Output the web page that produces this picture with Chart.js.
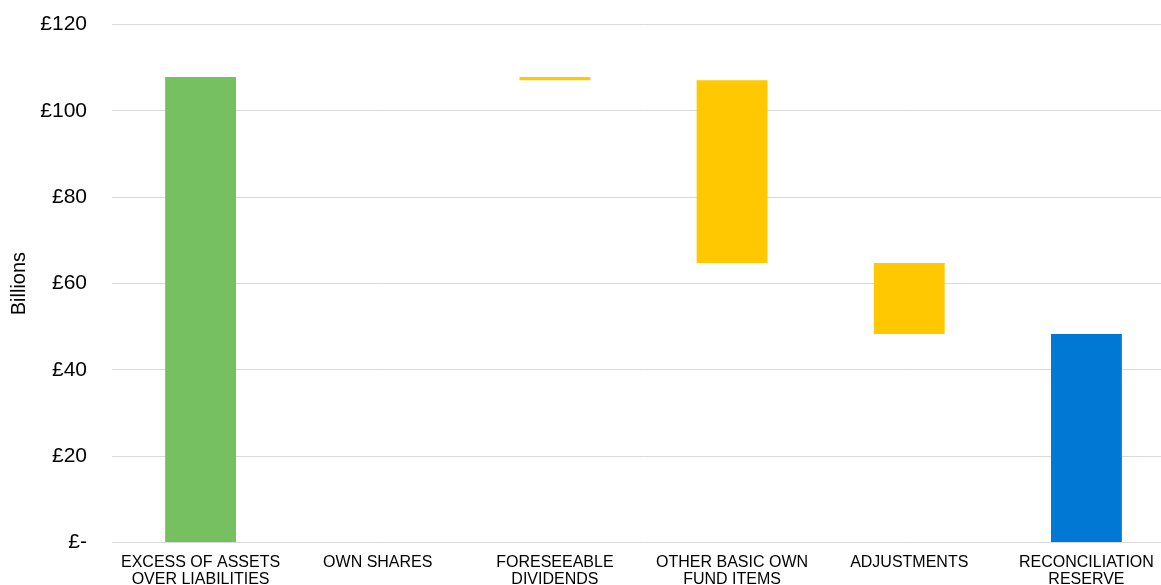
<!DOCTYPE html>
<html>
<head>
<meta charset="utf-8">
<script src="https://cdn.jsdelivr.net/npm/chart.js@4"></script>
<style>
  html, body { margin: 0; padding: 0; background: #ffffff; overflow: hidden; width: 1161px; height: 585px; }
  #wrap { position: absolute; left: 0; top: 0; width: 1175px; height: 600px; }
</style>
</head>
<body>
<div id="wrap"><canvas id="c"></canvas></div>
<script>
const categories = [
  ["EXCESS OF ASSETS", "OVER LIABILITIES"],
  ["OWN SHARES"],
  ["FORESEEABLE", "DIVIDENDS"],
  ["OTHER BASIC OWN", "FUND ITEMS"],
  ["ADJUSTMENTS"],
  ["RECONCILIATION", "RESERVE"]
];
const barStart = [0, 107.9, 107.9, 107.1, 64.8, 0];
const barEnd   = [107.9, 107.9, 107.1, 64.8, 48.3, 48.3];
const barColors = ["#76C062", "#FFC800", "#FFC800", "#FFC800", "#FFC800", "#0078D4"];
const yTicks = [0, 20, 40, 60, 80, 100, 120];

const ranges = barStart.map((s, i) => [s, barEnd[i]]);

new Chart(document.getElementById('c'), {
  type: 'bar',
  data: {
    labels: categories,
    datasets: [{
      data: ranges,
      backgroundColor: barColors,
      borderWidth: 0,
      barPercentage: 0.4,
      categoryPercentage: 1.0
    }]
  },
  options: {
    responsive: true,
    maintainAspectRatio: false,
    animation: false,
    layout: { padding: { top: 24.7, left: 0, right: 0, bottom: 0 } },
    plugins: { legend: { display: false }, tooltip: { enabled: false } },
    scales: {
      x: {
        grid: { display: false, drawTicks: false },
        border: { display: false },
        ticks: {
          color: '#000000',
          padding: 11,
          maxRotation: 0,
          autoSkip: false,
          font: { family: 'Liberation Sans, Arial, sans-serif', size: 16, lineHeight: 1.08 }
        },
        afterFit: (s) => { s.height = 600 - 542.5; }
      },
      y: {
        min: 0,
        max: 120,
        afterBuildTicks: (s) => { s.ticks = yTicks.map(v => ({ value: v })); },
        grid: { color: '#D9D9D9', lineWidth: 1, drawTicks: false },
        border: { display: false },
        ticks: {
          color: '#000000',
          padding: 25,
          font: { family: 'Liberation Sans, Arial, sans-serif', size: 21 },
          callback: (v) => v === 0 ? '£-' : '£' + v
        },
        title: {
          display: true,
          text: 'Billions',
          color: '#000000',
          padding: { top: 7.5, bottom: 0 },
          font: { family: 'Liberation Sans, Arial, sans-serif', size: 20 }
        },
        afterFit: (s) => { s.width = 112; s.paddingTop = 0; s.paddingBottom = 0; }
      }
    }
  }
});
</script>
</body>
</html>
